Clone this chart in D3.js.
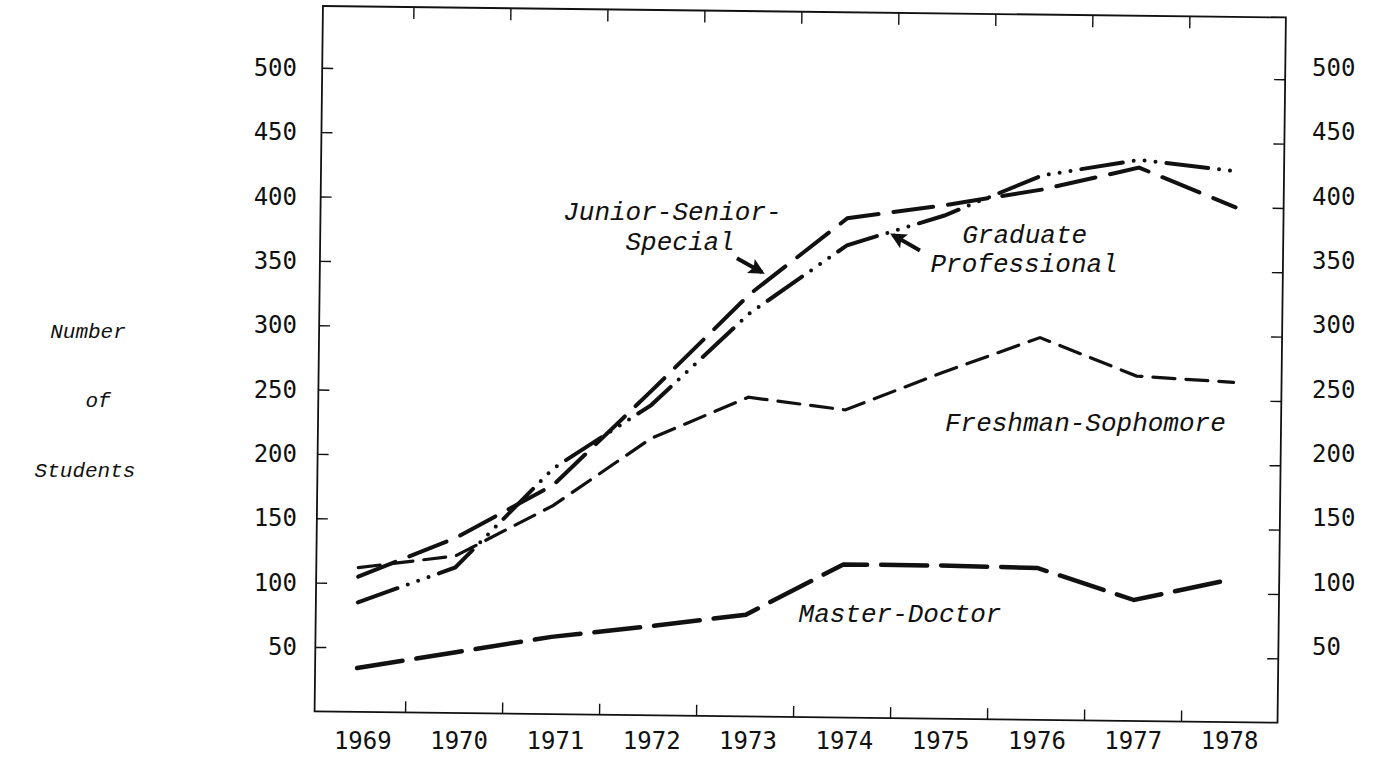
<!DOCTYPE html>
<html>
<head>
<meta charset="utf-8">
<script src="https://cdn.jsdelivr.net/npm/d3@7"></script>
<style>
    body { margin: 0; background: #ffffff; }
</style>
</head>
<body>
<script>
// values
var years = [1969, 1970, 1971, 1972, 1973, 1974, 1975, 1976, 1977, 1978];
var freshmanSophomore = [112, 122, 162, 215, 248, 239, 269, 297, 268, 264];
var juniorSeniorSpecial = [105, 136, 178, 252, 328, 388, 399, 412, 430, 400];
var graduateProfessional = [85, 113, 191, 241, 313, 367, 391, 423, 436, 428];
var masterDoctor = [34, 47, 60, 69, 79, 119, 119, 118, 94, 111];
var yTickValues = [50, 100, 150, 200, 250, 300, 350, 400, 450, 500];
var xTickValues = [1969.5, 1970.5, 1971.5, 1972.5, 1973.5, 1974.5, 1975.5, 1976.5, 1977.5];

function main(){
    var canvasWidth = 1377;
    var canvasHeight = 761;

    var svg = d3.select("body").append("svg")
        .attr("width", canvasWidth)
        .attr("height", canvasHeight)
        .style("background", "#ffffff");

    // the hand drawn frame and lines sit slightly turned on the page,
    // the typed labels do not
    var chart = svg.append("g")
        .attr("transform", "rotate(0.68)");
    var page = svg.append("g");

    var left = 323, right = 1286, top = 2.2, bottom = 707.5;

    var xScale = d3.scaleLinear().domain([1968.567, 1978.495]).range([left, right]);
    var yScale = d3.scaleLinear().domain([0, 548]).range([bottom, top]);

    // same axes as typed on the page
    var xPage = d3.scaleLinear().domain([1968.54, 1978.55]).range([318, 1282]);
    var yPage = d3.scaleLinear().domain([0, 548]).range([711, 6]);

    var series = [
        {name: "Freshman-Sophomore", values: freshmanSophomore, dash: "22,11", width: 3.2},
        {name: "Junior-Senior-Special", values: juniorSeniorSpecial, dash: "40,15", width: 4},
        {name: "Graduate Professional", values: graduateProfessional, dash: "42,11,0,11,0,11,0,11", width: 4},
        {name: "Master-Doctor", values: masterDoctor, dash: "46,14", width: 4.5}
    ];

    var line = d3.line()
        .x(function(d, i){ return xScale(years[i]); })
        .y(function(d){ return yScale(d); });

    // frame around the plot
    chart.append("rect")
        .attr("x", left)
        .attr("y", top)
        .attr("width", right - left)
        .attr("height", bottom - top)
        .attr("fill", "none")
        .attr("stroke", "#111")
        .attr("stroke-width", 1.8);

    // tick marks on all four sides, pointing inward
    function ticksOnly(g){
        g.select(".domain").remove();
        g.selectAll("line").attr("stroke", "#111").attr("stroke-width", 1.4);
    }
    chart.append("g")
        .attr("transform", "translate(0," + bottom + ")")
        .call(d3.axisBottom(xScale).tickValues(xTickValues).tickSize(-11).tickFormat(""))
        .call(ticksOnly);
    chart.append("g")
        .attr("transform", "translate(0," + top + ")")
        .call(d3.axisTop(xScale).tickValues(xTickValues).tickSize(-12).tickFormat(""))
        .call(ticksOnly);
    chart.append("g")
        .attr("transform", "translate(" + left + ",0)")
        .call(d3.axisLeft(yScale).tickValues(yTickValues).tickSize(-11).tickFormat(""))
        .call(ticksOnly);
    chart.append("g")
        .attr("transform", "translate(" + right + ",0)")
        .call(d3.axisRight(yScale).tickValues(yTickValues).tickSize(-11).tickFormat(""))
        .call(ticksOnly);

    // tick labels
    function labelsOnly(g){
        g.select(".domain").remove();
        g.selectAll("line").remove();
        g.selectAll("text")
            .attr("font-family", "DejaVu Sans Mono, monospace")
            .attr("font-size", "24px")
            .attr("fill", "#111");
    }
    page.append("g")
        .attr("transform", "translate(0,711)")
        .call(d3.axisBottom(xPage).tickValues(years).tickSize(0).tickPadding(21).tickFormat(d3.format("d")))
        .call(labelsOnly);
    page.append("g")
        .attr("transform", "translate(318,0)")
        .call(d3.axisLeft(yPage).tickValues(yTickValues).tickSize(0).tickPadding(21))
        .call(labelsOnly);
    page.append("g")
        .attr("transform", "translate(1282,0)")
        .call(d3.axisRight(yPage).tickValues(yTickValues).tickSize(0).tickPadding(30))
        .call(labelsOnly);

    // the four lines
    chart.selectAll(".series")
        .data(series)
        .enter().append("path")
        .attr("class", "series")
        .attr("d", function(d){ return line(d.values); })
        .attr("fill", "none")
        .attr("stroke", "#111")
        .attr("stroke-width", function(d){ return d.width; })
        .attr("stroke-dasharray", function(d){ return d.dash; })
        .attr("stroke-linecap", "round");

    // y title on the left
    var title = ["Number", "of", "Students"];
    var titleX = [88, 98, 85];
    var titleY = [338, 407, 477];
    page.selectAll(".ytitle")
        .data(title)
        .enter().append("text")
        .attr("class", "ytitle")
        .attr("x", function(d, i){ return titleX[i]; })
        .attr("y", function(d, i){ return titleY[i]; })
        .attr("text-anchor", "middle")
        .attr("font-family", "Liberation Mono, monospace")
        .attr("font-style", "italic")
        .attr("font-size", "21px")
        .attr("fill", "#111")
        .text(function(d){ return d; });

    // series labels, placed in page coordinates of the axes
    var labels = [
        {text: "Junior-Senior-", x: 1972.22, y: 382, anchor: "middle"},
        {text: "Special", x: 1972.30, y: 358, anchor: "middle"},
        {text: "Graduate", x: 1975.23, y: 364, anchor: "start"},
        {text: "Professional", x: 1974.90, y: 341, anchor: "start"},
        {text: "Freshman-Sophomore", x: 1975.05, y: 218, anchor: "start"},
        {text: "Master-Doctor", x: 1973.53, y: 69, anchor: "start"}
    ];
    page.selectAll(".label")
        .data(labels)
        .enter().append("text")
        .attr("class", "label")
        .attr("x", function(d){ return xPage(d.x); })
        .attr("y", function(d){ return yPage(d.y); })
        .attr("text-anchor", function(d){ return d.anchor; })
        .attr("font-family", "Liberation Mono, monospace")
        .attr("font-style", "italic")
        .attr("font-size", "26px")
        .attr("fill", "#111")
        .text(function(d){ return d.text; });

    // arrows pointing from labels to lines
    svg.append("defs").append("marker")
        .attr("id", "head")
        .attr("viewBox", "0 0 10 10")
        .attr("refX", 8)
        .attr("refY", 5)
        .attr("markerWidth", 4)
        .attr("markerHeight", 4)
        .attr("orient", "auto")
        .append("path")
        .attr("d", "M0,0 L10,5 L0,10 L2,5 Z")
        .attr("fill", "#111");

    var arrows = [
        {from: [1972.89, 352], to: [1973.15, 341]},
        {from: [1974.79, 358], to: [1974.51, 370]}
    ];
    page.selectAll(".arrow")
        .data(arrows)
        .enter().append("line")
        .attr("class", "arrow")
        .attr("x1", function(d){ return xPage(d.from[0]); })
        .attr("y1", function(d){ return yPage(d.from[1]); })
        .attr("x2", function(d){ return xPage(d.to[0]); })
        .attr("y2", function(d){ return yPage(d.to[1]); })
        .attr("stroke", "#111")
        .attr("stroke-width", 4)
        .attr("marker-end", "url(#head)");
}
main();
</script>
</body>
</html>
